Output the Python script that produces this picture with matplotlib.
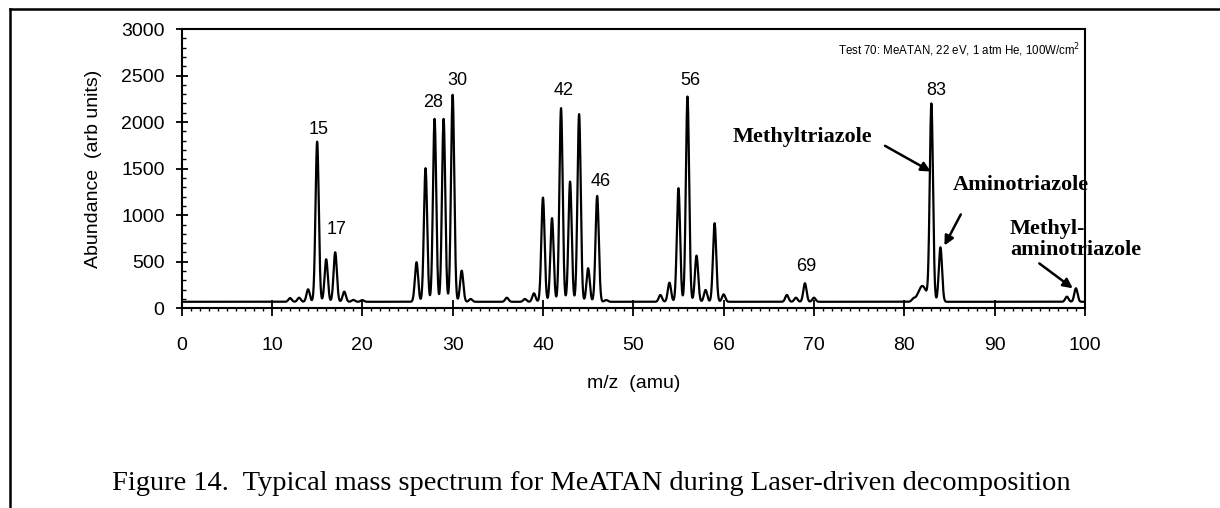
import numpy as np
import matplotlib.pyplot as plt
from matplotlib.lines import Line2D
from matplotlib import font_manager

# peak list: m/z and apex abundance
peak_mz = [12, 13, 14, 15, 16, 17, 18, 19, 20,
           26, 27, 28, 29, 30, 31, 32,
           36, 38, 39, 40, 41, 42, 43, 44, 45, 46, 47,
           53, 54, 55, 56, 57, 58, 59, 60,
           67, 68, 69, 70,
           81, 82, 83, 84,
           98, 99]
peak_abund = [110, 114, 204, 1790, 527, 602, 179, 90, 88,
              495, 1505, 2035, 2035, 2294, 404, 100,
              114, 100, 161, 1189, 968, 2150, 1361, 2086, 430, 1207, 89,
              143, 275, 1290, 2275, 566, 197, 914, 150,
              143, 114, 269, 114,
              95, 240, 2186, 655,
              125, 215]
baseline = 70

label_mz = [15, 17, 28, 30, 42, 46, 56, 69, 83]
label_xy = [(15.2, 1920), (17.2, 850), (27.8, 2210), (30.5, 2445),
            (42.3, 2340), (46.4, 1360), (56.3, 2445), (69.2, 445), (83.5, 2340)]

x = np.linspace(0, 100, 8001)
y = np.full_like(x, baseline, dtype=float)
for m, h in zip(peak_mz, peak_abund):
    s = 0.45 if m == 82 else 0.18
    y += (h - baseline) * np.exp(-(x - m) ** 2 / (2 * s ** 2))

installed = {f.name for f in font_manager.fontManager.ttflist}
sans = 'Liberation Sans'
serif = 'Liberation Serif'
narrow = 'Liberation Sans Narrow' if 'Liberation Sans Narrow' in installed else sans

fig = plt.figure(figsize=(12.2, 5.08), dpi=100)
ax = fig.add_axes([0.1489, 0.3931, 0.7404, 0.5498])
ax.plot(x, y, color='k', lw=1.6)
ax.set_xlim(0, 100)
ax.set_ylim(0, 3000)

ax.set_xticks(np.arange(0, 101, 10))
ax.set_xticks(np.arange(0, 101, 1), minor=True)
ax.set_yticks(np.arange(0, 3001, 500))
ax.set_yticks(np.arange(0, 3001, 100), minor=True)

for lab in ax.get_xticklabels() + ax.get_yticklabels():
    lab.set_family(sans)
ax.tick_params(axis='x', which='major', direction='inout', length=11, width=1.3,
               labelsize=14, pad=15)
ax.tick_params(axis='x', which='minor', direction='out', length=2.5, width=1.0)
ax.tick_params(axis='y', which='major', direction='inout', length=8.6, width=1.3,
               labelsize=14, pad=8)
ax.tick_params(axis='y', which='minor', direction='in', length=3, width=1.0)
for sp in ax.spines.values():
    sp.set_linewidth(1.5)

ax.set_xlabel('m/z  (amu)', family=sans, fontsize=14, labelpad=15)
ax.set_ylabel('Abundance  (arb units)', family=sans, fontsize=14, labelpad=14)

for m, (tx, ty) in zip(label_mz, label_xy):
    ax.text(tx, ty, str(m), family=sans, fontsize=13, ha='center', va='center')

ax.text(0.995, 0.925, 'Test 70: MeATAN, 22 eV, 1 atm He, 100W/cm$^2$',
        transform=ax.transAxes, family=narrow,
        fontsize=10.5 if narrow != sans else 8.3, ha='right', va='center')

arrow = dict(arrowstyle='-|>', color='k', lw=1.8, mutation_scale=14)
bold = dict(family=serif, weight='bold', fontsize=16)
ax.text(68.7, 1840, 'Methyltriazole', ha='center', va='center', **bold)
ax.annotate('', xy=(83.2, 1455), xytext=(77.6, 1760), arrowprops=arrow)
ax.text(92.9, 1325, 'Aminotriazole', ha='center', va='center', **bold)
ax.annotate('', xy=(84.3, 648), xytext=(86.4, 1035), arrowprops=arrow)
ax.text(91.7, 740, 'Methyl-\naminotriazole', ha='left', va='center',
        linespacing=1.05, clip_on=False, **bold)
ax.annotate('', xy=(98.9, 197), xytext=(94.7, 500), arrowprops=arrow)

fig.text(0.485, 0.049, 'Figure 14.  Typical mass spectrum for MeATAN during Laser-driven decomposition',
         family=serif, fontsize=20.5, ha='center', va='center')

fig.add_artist(Line2D([10 / 1220, 1.0], [1 - 9 / 508, 1 - 9 / 508],
                      transform=fig.transFigure, color='k', lw=1.8))
fig.add_artist(Line2D([10 / 1220, 10 / 1220], [0, 1 - 9 / 508],
                      transform=fig.transFigure, color='k', lw=1.8))

fig.savefig('out.png', dpi=100)
